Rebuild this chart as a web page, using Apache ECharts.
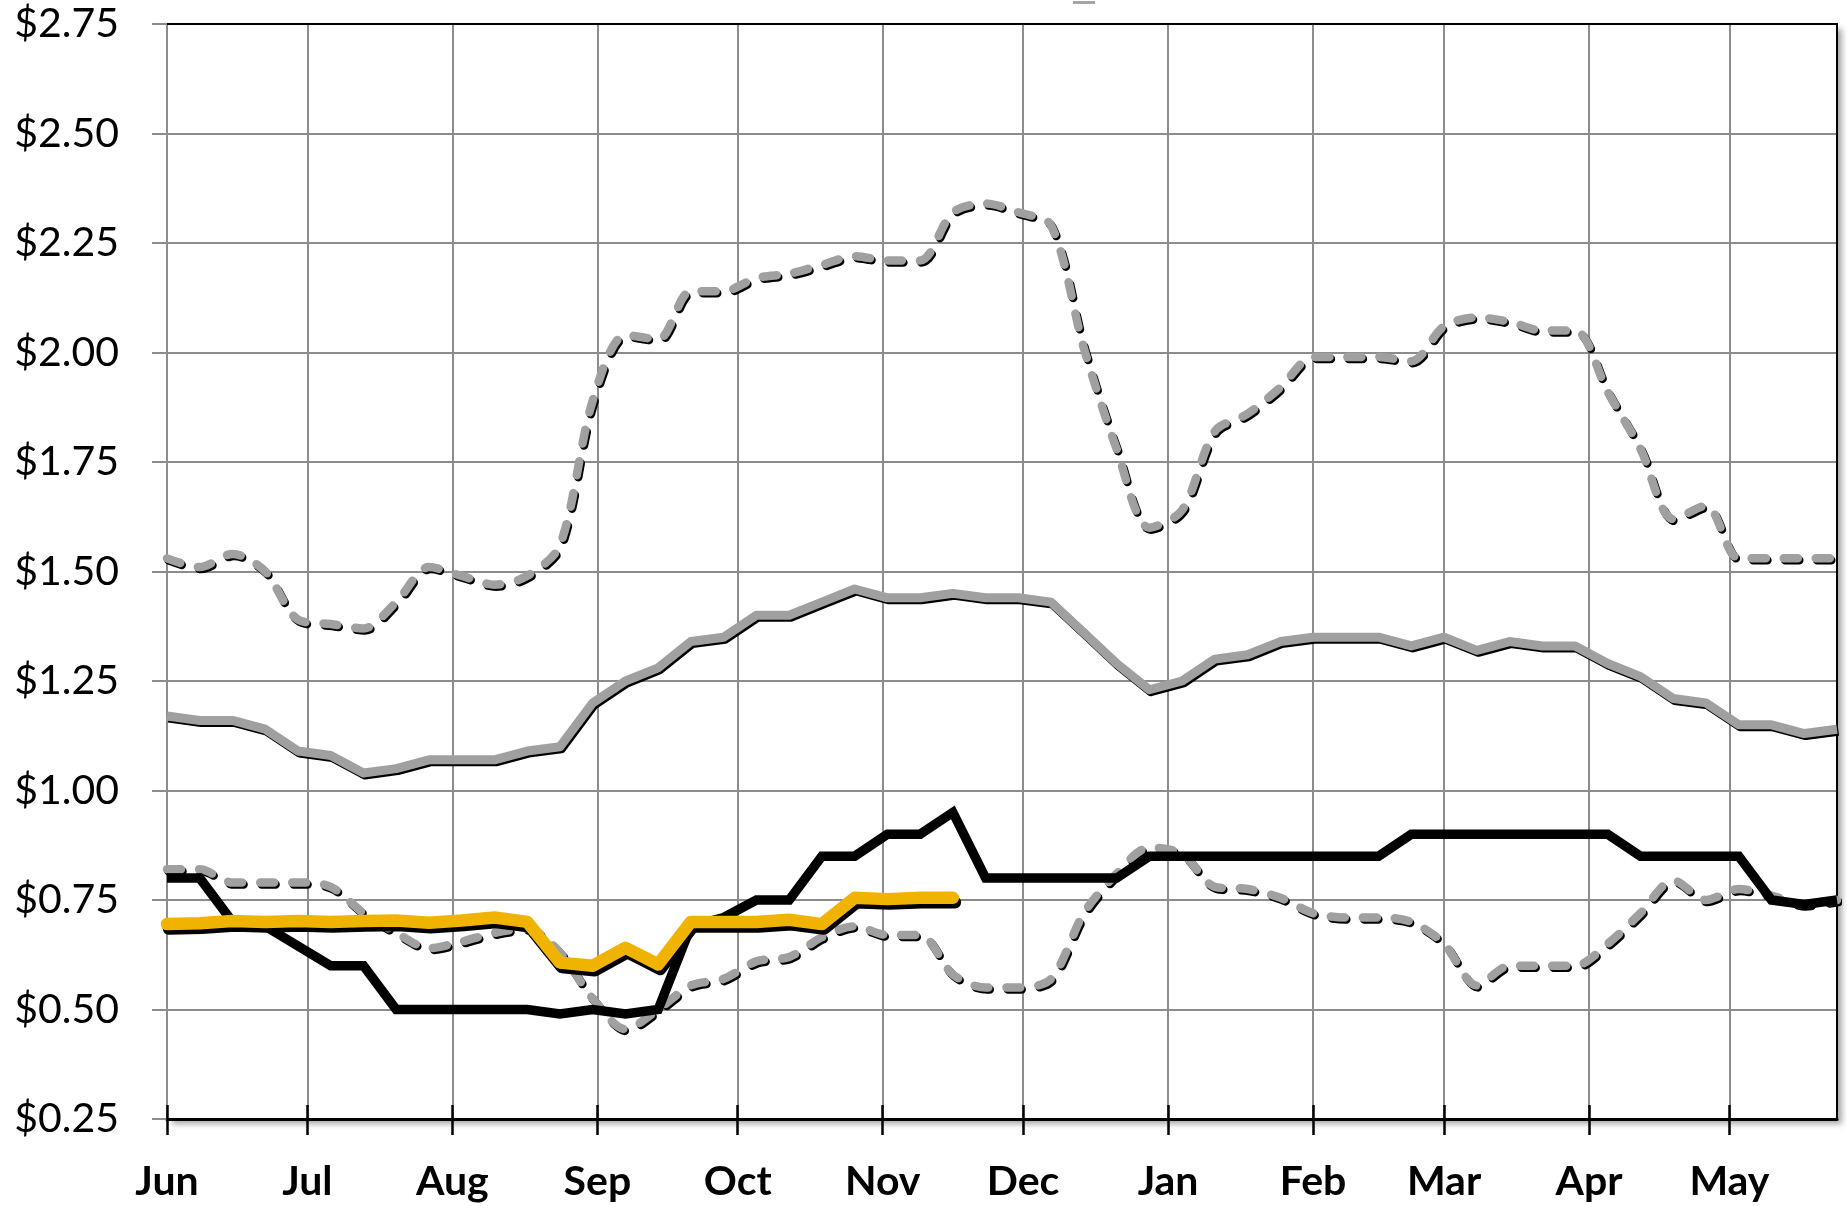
<!DOCTYPE html>
<html>
<head>
<meta charset="utf-8">
<script src="https://cdn.jsdelivr.net/npm/echarts@6/dist/echarts.min.js"></script>
<style>
html,body{margin:0;padding:0;background:#fff;}
#c{width:1847px;height:1206px;}
</style>
</head>
<body>
<div id="c"></div>
<script>
// Month axis (season June -> May), weekly data points
const monthNames = ['Jun','Jul','Aug','Sep','Oct','Nov','Dec','Jan','Feb','Mar','Apr','May'];
const monthDays  = [30,31,31,30,31,30,31,31,28,31,30,31];
const weekStep = 7;      // days between data points
const dayCount = 358;    // days shown on the axis (first to last weekly point)

// Y axis ticks
const yMin = 0.25, yMax = 2.75, yStep = 0.25;

// Series values (weekly)
const maxPrice = [1.53,1.51,1.54,1.50,1.39,1.38,1.37,1.43,1.51,1.49,1.47,1.49,1.56,1.89,2.04,2.03,2.14,2.14,2.17,2.18,2.20,2.22,2.21,2.21,2.32,2.34,2.32,2.29,2.01,1.78,1.60,1.64,1.82,1.86,1.92,1.99,1.99,1.99,1.98,2.06,2.08,2.07,2.05,2.05,1.91,1.78,1.62,1.65,1.53,1.53,1.53,1.53];
const minPrice = [0.82,0.82,0.79,0.79,0.79,0.78,0.72,0.675,0.64,0.655,0.675,0.685,0.63,0.525,0.455,0.50,0.555,0.57,0.61,0.62,0.665,0.69,0.67,0.67,0.58,0.55,0.55,0.57,0.72,0.81,0.87,0.855,0.78,0.775,0.755,0.72,0.71,0.71,0.70,0.65,0.555,0.60,0.60,0.60,0.65,0.72,0.795,0.75,0.775,0.76,0.74,0.75];
const avgPrice = [1.17,1.16,1.16,1.14,1.09,1.08,1.04,1.05,1.07,1.07,1.07,1.09,1.10,1.20,1.25,1.28,1.34,1.35,1.40,1.40,1.43,1.46,1.44,1.44,1.45,1.44,1.44,1.43,1.36,1.29,1.23,1.25,1.30,1.31,1.34,1.35,1.35,1.35,1.33,1.35,1.32,1.34,1.33,1.33,1.29,1.26,1.21,1.20,1.15,1.15,1.13,1.14];
const lastYear = [0.80,0.80,0.70,0.69,0.645,0.60,0.60,0.50,0.50,0.50,0.50,0.50,0.49,0.50,0.49,0.50,0.69,0.71,0.75,0.75,0.85,0.85,0.90,0.90,0.95,0.80,0.80,0.80,0.80,0.80,0.85,0.85,0.85,0.85,0.85,0.85,0.85,0.85,0.90,0.90,0.90,0.90,0.90,0.90,0.90,0.85,0.85,0.85,0.85,0.75,0.74,0.75];
const thisYear = [0.695,0.697,0.702,0.70,0.702,0.70,0.702,0.703,0.698,0.703,0.71,0.70,0.607,0.60,0.641,0.603,0.70,0.70,0.70,0.705,0.695,0.755,0.752,0.755,0.755];

// Build axis categories
const monthAt = {};
let acc = 0;
monthDays.forEach((n, k) => { monthAt[acc] = monthNames[k]; acc += n; });
const dayCats = [];
for (let i = 0; i < dayCount; i++) dayCats.push('d' + i);
const isMonthStart = (i) => monthAt[i] !== undefined;
const toPairs = (arr) => arr.map((v, i) => [i * weekStep, v]);

const GRID_GRAY = '#8c8c8c';
const chart = echarts.init(document.getElementById('c'));

const dashedStyle = {
  color: '#a0a0a0', width: 8.5, type: [14, 18], cap: 'round', join: 'round',
  shadowColor: '#000', shadowBlur: 0, shadowOffsetX: 1.5, shadowOffsetY: 2
};

chart.setOption({
  animation: false,
  backgroundColor: '#fff',
  grid: {
    left: 167, top: 24, right: 10, bottom: 87,
    show: true, backgroundColor: '#fff', borderWidth: 0,
    shadowColor: 'rgba(0,0,0,0.35)', shadowBlur: 6, shadowOffsetX: 5, shadowOffsetY: 5
  },
  graphic: [{
    type: 'rect', shape: { x: 1073, y: 1, width: 22, height: 3 },
    style: { fill: '#a6a6a6' }
  }],
  xAxis: [
    {
      type: 'category', data: dayCats, boundaryGap: false, position: 'bottom',
      axisLine: { show: true, lineStyle: { color: '#000', width: 3 } },
      axisTick: { show: true, interval: (i) => isMonthStart(i), length: 16, inside: false,
                  lineStyle: { color: '#000', width: 2.5 } },
      axisLabel: { interval: (i) => isMonthStart(i), formatter: (v, i) => monthAt[i] || '',
                   fontFamily: 'Lato', fontWeight: 'bold', fontSize: 41, color: '#000', margin: 42 },
      splitLine: { show: true, interval: (i) => isMonthStart(i),
                   lineStyle: { color: GRID_GRAY, width: 2 } }
    },
    {
      type: 'category', data: dayCats, boundaryGap: false, position: 'bottom',
      axisLine: { show: false },
      axisTick: { show: true, interval: (i) => isMonthStart(i), length: 14, inside: true,
                  lineStyle: { color: '#000', width: 2.5 } },
      axisLabel: { show: false }, splitLine: { show: false }
    },
    {
      type: 'category', data: dayCats, boundaryGap: false, position: 'top',
      axisLine: { show: true, lineStyle: { color: '#000', width: 2 } },
      axisTick: { show: false }, axisLabel: { show: false }, splitLine: { show: false }
    }
  ],
  yAxis: [
    {
      type: 'value', min: yMin, max: yMax, interval: yStep,
      axisLine: { show: true, lineStyle: { color: GRID_GRAY, width: 2 } },
      axisTick: { show: true, length: 15, lineStyle: { color: GRID_GRAY, width: 2 } },
      axisLabel: { formatter: (v) => '$' + v.toFixed(2), fontFamily: 'Lato', fontSize: 41,
                   color: '#000', margin: 48 },
      splitLine: { show: true, lineStyle: { color: GRID_GRAY, width: 2 } }
    },
    {
      type: 'value', min: yMin, max: yMax, interval: yStep, position: 'right',
      axisLine: { show: true, lineStyle: { color: '#000', width: 2 } },
      axisTick: { show: false }, axisLabel: { show: false }, splitLine: { show: false }
    }
  ],
  series: [
    { name: 'High', type: 'line', data: toPairs(maxPrice), symbol: 'none', smooth: 0.3,
      lineStyle: dashedStyle, z: 2 },
    { name: 'Low', type: 'line', data: toPairs(minPrice), symbol: 'none', smooth: 0.3,
      lineStyle: dashedStyle, z: 2 },
    { name: 'Average', type: 'line', data: toPairs(avgPrice), symbol: 'none',
      lineStyle: { color: '#a0a0a0', width: 9, join: 'round',
                   shadowColor: '#000', shadowBlur: 0, shadowOffsetX: 1.5, shadowOffsetY: 2 }, z: 3 },
    { name: 'Last year', type: 'line', data: toPairs(lastYear), symbol: 'none',
      lineStyle: { color: '#000', width: 9.5, join: 'miter' }, z: 4 },
    { name: 'This year', type: 'line', data: toPairs(thisYear), symbol: 'none',
      lineStyle: { color: '#F0B400', width: 12.5, cap: 'round', join: 'round',
                   shadowColor: '#000', shadowBlur: 0, shadowOffsetX: 2, shadowOffsetY: 4.5 }, z: 5 }
  ]
});
</script>
</body>
</html>
